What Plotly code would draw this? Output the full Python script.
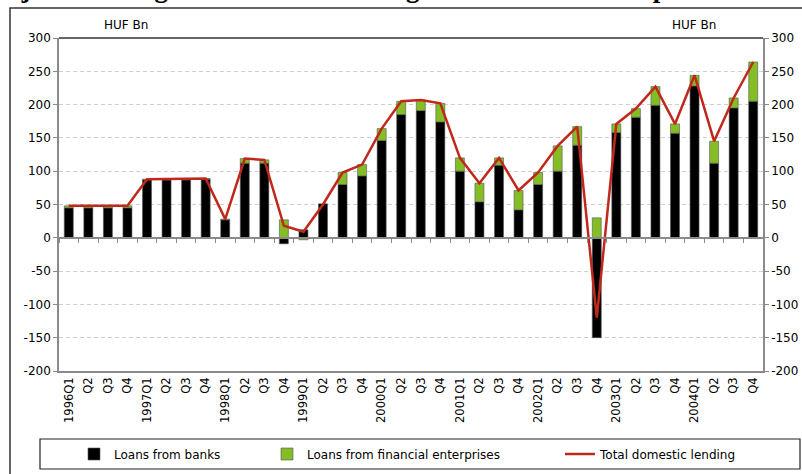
import plotly.graph_objects as go

years = [1996, 1997, 1998, 1999, 2000, 2001, 2002, 2003, 2004]
quarters = [1, 2, 3, 4]
period_ids = [f"{y}Q{q}" for y in years for q in quarters]
tick_labels = [f"{y}Q{q}" if q == 1 else f"Q{q}" for y in years for q in quarters]

y_tick_vals = [-200, -150, -100, -50, 0, 50, 100, 150, 200, 250, 300]
y_tick_text = ["-200", "-150", "-100", "-50", "0", "50", "100", "150", "200", "250", "300"]

loans_banks = [45, 45, 45, 45,
               87, 87, 87, 88,
               27, 112, 112, -9,
               12, 51, 80, 93,
               146, 185, 191, 174,
               100, 54, 109, 42,
               80, 100, 139, -150,
               158, 181, 199, 157,
               228, 112, 195, 205]
loans_fin = [3, 3, 3, 3,
             1, 1, 1, 1,
             1, 7, 5, 27,
             -3, -1, 18, 17,
             18, 20, 16, 28,
             20, 28, 11, 29,
             18, 38, 28, 30,
             13, 13, 28, 14,
             16, 33, 15, 59]
total_lending = [48, 48, 48, 48,
                 88, 88, 88, 89,
                 28, 119, 117, 18,
                 9, 50, 98, 110,
                 164, 205, 207, 202,
                 120, 82, 120, 71,
                 98, 138, 167, -120,
                 171, 194, 227, 171,
                 244, 145, 210, 264]

FONT = "DejaVu Sans"
AX = "#8a8a8a"
GREEN = "#84BD26"
RED = "#C0281C"

fig = go.Figure()
fig.add_trace(go.Bar(x=period_ids, y=loans_banks, name="Loans from banks",
                     marker=dict(color="#000000", line=dict(color="#555555", width=0.6)),
                     legend="legend"))
fig.add_trace(go.Bar(x=period_ids, y=loans_fin, name="Loans from financial enterprises",
                     marker=dict(color=GREEN, line=dict(color="#555555", width=0.6)),
                     legend="legend2"))
fig.add_trace(go.Scatter(x=period_ids, y=total_lending, name="Total domestic lending",
                         mode="lines", line=dict(color=RED, width=2.5),
                         legend="legend3"))
# helper trace so the zero-line axis and right axis are drawn
fig.add_trace(go.Scatter(x=period_ids, y=[None] * len(period_ids), xaxis="x2", yaxis="y2",
                         mode="lines", showlegend=False, hoverinfo="skip"))

W, H = 802, 474
L, R, T, B = 59, 39, 38, 103
pw, ph = W - L - R, H - T - B


def px_x(p):
    return (p - L) / pw


def px_y(p):
    return (H - B - p) / ph


yaxis_common = dict(range=[-200, 300], tickmode="array", tickvals=y_tick_vals,
                    ticktext=y_tick_text, zeroline=False, showline=True,
                    linecolor=AX, linewidth=1.5, ticks="outside", ticklen=4,
                    tickcolor=AX, tickfont=dict(size=12))

fig.update_layout(
    width=W, height=H,
    margin=dict(l=L, r=R, t=T, b=B, autoexpand=False),
    paper_bgcolor="white", plot_bgcolor="white",
    barmode="relative", bargap=0.54,
    font=dict(family=FONT, size=12, color="#000000"),
    xaxis=dict(type="category", categoryorder="array", categoryarray=period_ids,
               tickmode="array", tickvals=period_ids, ticktext=tick_labels,
               tickangle=-90, tickfont=dict(size=11.5), ticks="",
               showline=True, linecolor=AX, linewidth=1.5, showgrid=False,
               zeroline=False, anchor="y"),
    xaxis2=dict(type="category", categoryorder="array", categoryarray=period_ids,
                matches="x", overlaying="x", anchor="free", position=0.4,
                tickmode="array", tickvals=period_ids, tickson="boundaries",
                ticks="outside", ticklen=4, tickcolor=AX, showticklabels=False,
                showline=True, linecolor=AX, linewidth=1.5, showgrid=False, zeroline=False),
    yaxis=dict(showgrid=True, gridcolor="#cfcfcf", griddash="4px,3px", gridwidth=1,
               **yaxis_common),
    yaxis2=dict(overlaying="y", matches="y", side="right", anchor="x2", showgrid=False,
                **yaxis_common),
    legend=dict(orientation="h", x=px_x(74), y=px_y(454), xanchor="left", yanchor="middle",
                bgcolor="rgba(0,0,0,0)", font=dict(size=12)),
    legend2=dict(orientation="h", x=px_x(267), y=px_y(454), xanchor="left", yanchor="middle",
                 bgcolor="rgba(0,0,0,0)", font=dict(size=12)),
    legend3=dict(orientation="h", x=px_x(560), y=px_y(454), xanchor="left", yanchor="middle",
                 bgcolor="rgba(0,0,0,0)", font=dict(size=12)),
    shapes=[
        dict(type="line", xref="paper", yref="paper", x0=0, x1=1, y0=1, y1=1,
             line=dict(color="#333333", width=1.5)),
        dict(type="rect", xref="paper", yref="paper", x0=px_x(10), x1=px_x(830),
             y0=px_y(500), y1=px_y(8), line=dict(color="#333333", width=1.5),
             layer="below"),
        dict(type="rect", xref="paper", yref="paper", x0=px_x(40), x1=px_x(800),
             y0=px_y(469), y1=px_y(439), line=dict(color="#222222", width=1.2),
             layer="below"),
    ],
    annotations=[
        dict(text="HUF Bn", xref="paper", yref="paper", x=px_x(102), y=px_y(34),
             yanchor="bottom", showarrow=False, font=dict(size=12)),
        dict(text="HUF Bn", xref="paper", yref="paper", x=px_x(718), y=px_y(34),
             yanchor="bottom", showarrow=False, font=dict(size=12)),
        dict(text="<b>Seasonally adjusted change in loans outstanding to non-financial corporations</b>",
             xref="paper", yref="paper", x=px_x(-137), y=px_y(5), xanchor="left",
             yanchor="bottom", showarrow=False,
             font=dict(family="Liberation Serif", size=27, color="#000000")),
    ],
)

fig.write_html("out.html", config={"displayModeBar": False},
               post_script="document.body.style.margin='0px';document.body.style.overflow='hidden';")
